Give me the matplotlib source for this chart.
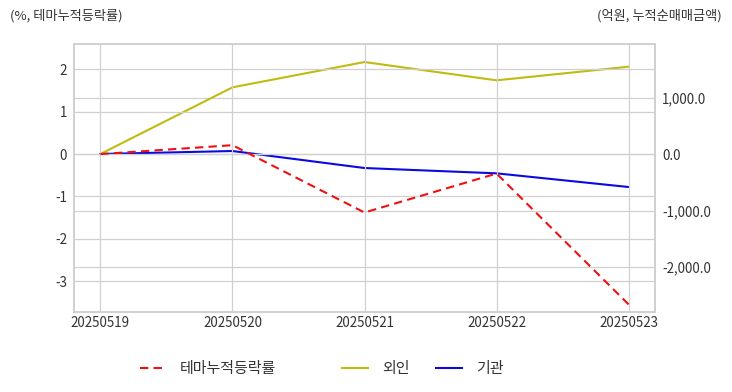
import matplotlib
matplotlib.use('Agg')
import matplotlib.pyplot as plt
from matplotlib.ticker import FuncFormatter

plt.rcParams['font.family'] = ['Noto Sans CJK KR', 'DejaVu Sans']
plt.rcParams['axes.unicode_minus'] = False

dates = ['20250519', '20250520', '20250521', '20250522', '20250523']
theme_rate = [0.0, 0.21, -1.38, -0.46, -3.55]      # %, left axis
foreign = [0.0, 1180.0, 1628.0, 1304.0, 1545.0]     # 억원, right axis
institution = [0.0, 53.0, -248.0, -342.0, -584.0]   # 억원, right axis

left_ticks = [-3, -2, -1, 0, 1, 2]
right_ticks = [-2000, -1000, 0, 1000]

grid_c = '#d0d0d0'
text_c = '#333333'

fig = plt.figure(figsize=(7.32, 3.92), dpi=100)
ax = fig.add_axes([74 / 732, 1 - 312 / 392, (655 - 74) / 732, (312 - 44) / 392])
ax2 = ax.twinx()

x = list(range(len(dates)))
l1, = ax.plot(x, theme_rate, color='#ee1111', lw=1.5, ls=(0, (4, 2.5)), label='테마누적등락률', zorder=3)
l2, = ax2.plot(x, foreign, color='#c0bb10', lw=1.5, label='외인')
l3, = ax2.plot(x, institution, color='#0a0ae0', lw=1.5, label='기관')

ax.set_xlim(-0.2, 4.2)
ax.set_ylim(-3.73, 2.6)
ax2.set_ylim(-2796, 1947)
ax.set_xticks(x)
ax.set_xticklabels(dates)
ax.set_yticks(left_ticks)
ax2.set_yticks(right_ticks)
ax2.yaxis.set_major_formatter(FuncFormatter(lambda v, p: f'{v:,.1f}'))

ax.grid(True, color=grid_c, lw=0.9)
ax2.grid(True, axis='y', color=grid_c, lw=0.9)
ax.set_axisbelow(True)
ax2.set_axisbelow(True)
ax.set_zorder(ax2.get_zorder() + 1)
ax.patch.set_visible(False)

for a in (ax, ax2):
    for s in a.spines.values():
        s.set_color(grid_c)
        s.set_linewidth(1.2)
    a.tick_params(length=0, labelsize=9.6, colors=text_c, pad=5)
ax.tick_params(axis='x', pad=3)

fig.text(10 / 732, 1 - 16 / 392, '(%, 테마누적등락률)', fontsize=9.5, color=text_c, va='center', ha='left')
fig.text(722 / 732, 1 - 16 / 392, '(억원, 누적순매매금액)', fontsize=9.5, color=text_c, va='center', ha='right')

# legend entries placed at their own positions, as in the reference
for h, xl in zip([l1, l2, l3], [140, 342, 436]):
    fig.legend(handles=[h], loc='center left', bbox_to_anchor=(xl / 732, 1 - 369 / 392),
               frameon=False, fontsize=10.8, handlelength=1.7, handletextpad=0.95,
               borderaxespad=0, borderpad=0, labelcolor=text_c)

fig.savefig('out.png', dpi=100)
